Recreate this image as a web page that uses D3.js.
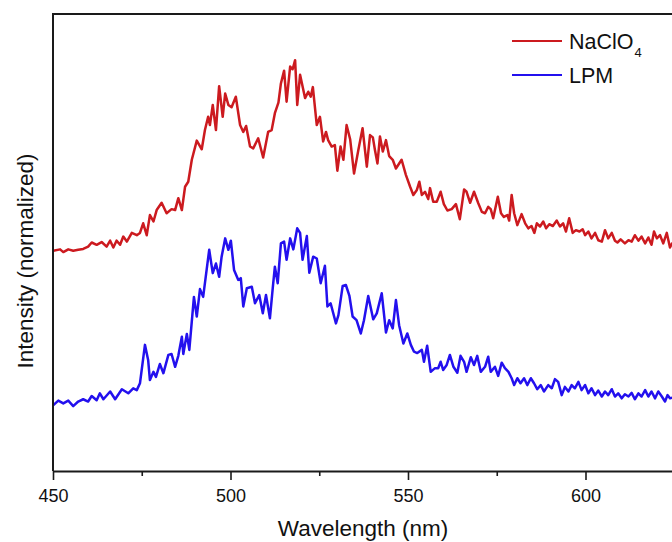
<!DOCTYPE html>
<html>
<head>
<meta charset="utf-8">
<script src="https://cdn.jsdelivr.net/npm/d3@7"></script>
<style>
  html, body { margin: 0; padding: 0; background: #fff; overflow: hidden; }
  svg { display: block; font-family: "Liberation Sans", Arial, Helvetica, sans-serif; }
</style>
</head>
<body>
<svg id="chart" width="672" height="542"></svg>
<script>
// ---------------- data ----------------
const seriesNames = ["NaClO4", "LPM"];
const xMajorTicks = [450, 500, 550, 600];
const xMinorTicks = [475, 525, 575, 625];
const xLabel = "Wavelength (nm)";
const yLabel = "Intensity (normalized)";

const naclo4Wavelength = [450.1,452.0,452.9,454.3,455.7,457.1,458.5,459.9,460.9,462.3,463.7,465.1,466.1,467.0,467.9,468.9,469.8,470.8,472.2,473.6,474.5,475.4,476.4,477.3,478.3,479.2,480.6,482.0,483.4,484.4,485.3,486.3,487.2,488.1,489.1,490.5,491.9,492.8,493.7,494.2,495.0,495.9,496.8,497.8,498.5,499.4,500.3,501.5,502.7,503.6,504.4,505.5,506.4,507.8,509.2,510.6,511.6,512.5,513.5,514.2,515.1,515.8,516.8,517.5,518.2,518.8,519.6,521.0,521.9,522.6,523.2,524.3,525.2,526.1,526.9,527.5,528.5,529.4,530.1,531.0,531.8,532.7,533.7,534.8,536.0,537.2,538.4,539.3,540.1,540.7,541.4,542.1,542.9,543.8,544.7,545.7,546.6,548.2,549.4,550.6,551.5,552.5,553.2,553.9,554.8,555.7,556.2,557.1,558.1,559.2,560.1,561.1,562.3,563.5,564.6,565.8,566.5,567.5,568.6,569.8,570.8,571.7,572.6,573.3,574.0,575.3,576.2,577.0,578.0,578.5,579.2,579.9,580.8,582.0,583.0,583.9,584.8,585.6,586.3,587.2,588.1,588.9,589.8,590.8,591.9,592.8,593.7,594.5,595.4,596.4,597.3,598.3,599.2,599.9,600.8,601.7,602.7,603.6,604.6,605.5,606.4,607.4,608.3,609.0,609.9,611.1,612.1,613.0,613.9,614.9,615.8,616.8,617.7,618.6,619.3,620.1,621.0,621.9,622.9,623.8,624.4,625.5,627.0];
const naclo4Intensity = [48.2,48.5,47.9,48.5,48.2,48.4,48.6,49.1,50.0,49.5,50.1,49.1,50.4,48.9,50.4,49.5,51.3,50.2,52.1,51.6,52.1,54.2,51.6,56.0,54.6,57.1,58.7,56.4,57.3,57.1,59.7,57.1,62.2,63.3,68.1,72.3,70.4,74.6,77.5,75.7,80.1,74.6,84.2,77.5,82.6,80.1,79.6,81.9,75.7,74.2,75.5,71.0,70.6,72.8,68.6,74.2,74.6,78.3,80.6,84.8,87.6,80.8,88.5,87.9,89.9,80.1,86.7,81.6,83.0,81.9,84.0,75.7,77.5,72.1,74.2,72.4,71.0,71.3,65.7,71.0,68.1,75.7,72.6,65.1,70.2,75.0,66.6,73.5,73.0,70.2,67.3,73.2,69.9,72.4,68.9,68.1,66.2,68.1,64.8,62.2,60.4,61.5,63.3,60.4,61.1,59.5,61.9,58.9,58.9,61.1,58.4,57.0,57.3,58.4,55.1,61.6,61.1,58.7,61.1,58.6,56.7,56.4,57.8,57.3,55.3,60.0,56.4,55.6,56.0,54.8,60.4,56.4,53.8,56.2,54.2,53.1,53.6,52.1,54.2,53.5,54.6,53.1,54.0,53.6,54.8,53.5,54.2,52.4,55.3,52.1,52.7,52.4,52.9,51.6,52.4,50.9,52.1,50.5,50.2,52.7,50.9,52.1,50.4,50.0,50.7,49.8,50.5,50.2,51.6,50.4,51.3,49.8,51.1,49.5,52.4,50.9,51.6,49.8,52.1,48.9,49.8,50.5,49.6];

const lpmWavelength = [450.1,451.5,452.9,454.3,455.7,457.1,458.5,459.9,460.9,462.3,463.2,464.2,466.1,467.5,469.4,471.2,472.6,473.6,474.5,475.9,476.8,477.3,478.3,479.0,480.1,481.1,482.5,483.4,484.4,485.3,486.3,486.7,487.7,488.4,489.7,490.5,491.4,492.3,494.0,495.0,495.9,496.8,497.5,498.5,499.4,500.1,501.0,502.2,502.9,503.6,504.6,506.0,506.9,508.1,509.1,510.0,511.1,511.9,512.5,513.3,514.2,515.1,515.8,516.8,517.7,518.8,519.6,520.3,521.5,522.2,523.3,524.3,525.4,526.6,527.3,528.2,529.7,530.4,531.6,532.5,533.5,534.4,535.5,536.7,537.6,538.8,540.2,541.2,542.6,543.8,544.7,545.7,546.6,547.5,548.7,549.8,550.8,551.7,552.6,553.9,554.5,555.4,556.4,557.6,558.5,559.2,559.9,560.9,561.8,562.8,563.9,564.8,565.8,566.5,567.7,568.6,569.5,570.5,571.7,572.6,573.3,574.5,575.4,576.4,577.3,578.3,579.2,579.9,580.8,581.7,582.7,583.6,584.6,585.5,586.4,587.4,588.3,589.5,590.5,591.4,592.3,593.3,594.2,595.2,596.1,597.0,598.0,598.9,599.9,600.8,601.7,602.7,603.6,604.6,605.5,606.4,607.4,608.3,609.2,610.2,611.1,612.1,613.0,613.9,614.9,615.8,616.8,617.7,618.6,619.6,620.5,621.5,622.4,623.1,623.8,625.0,626.5];
const lpmIntensity = [14.4,15.4,14.8,15.4,14.2,15.2,15.7,15.2,16.4,15.5,17.0,15.7,17.4,15.7,17.9,17.0,18.1,17.7,19.2,27.6,24.3,19.9,21.7,20.6,23.4,21.4,25.4,25.6,22.8,25.2,29.4,25.6,30.0,26.5,38.1,33.8,39.8,38.1,48.4,43.3,45.4,42.5,46.9,50.9,48.4,50.4,44.0,41.8,42.2,36.0,40.0,40.3,36.7,38.5,34.5,38.5,33.4,40.0,44.7,41.1,49.8,50.2,46.2,50.9,48.5,53.1,52.1,46.2,51.4,43.4,46.9,46.5,41.1,44.9,36.0,36.7,32.3,34.1,40.5,40.7,38.3,33.8,33.0,30.1,33.0,38.3,33.2,34.5,38.9,30.3,33.0,31.2,37.4,31.9,27.9,30.1,27.6,26.1,25.8,26.5,23.9,27.4,21.7,22.5,22.5,23.9,22.1,23.2,25.4,22.8,21.5,25.2,23.9,21.7,24.9,23.2,25.2,21.7,22.8,25.0,21.7,22.8,20.8,23.7,22.5,21.7,20.3,18.8,20.3,19.2,20.3,18.8,20.3,19.2,17.9,18.8,17.4,18.8,18.1,20.1,19.5,16.6,18.4,17.4,18.8,18.1,19.5,17.7,18.8,17.0,18.1,16.6,17.6,16.3,17.4,16.6,17.9,16.3,17.0,15.9,16.8,16.3,17.1,15.7,17.0,16.3,17.7,16.3,17.4,15.9,17.4,16.3,15.2,16.6,15.9,16.2,16.8];

const seriesColors = ["#cc1a1f", "#2310ee"];

// ---------------- layout ----------------
const svg = d3.select("#chart");
const margin = { left: 53, top: 14, bottom: 471, right: 763 };

const x = d3.scaleLinear().domain([450, 650]).range([margin.left, margin.right]);
const y = d3.scaleLinear().domain([0, 100]).range([margin.bottom, margin.top]);

svg.append("defs").append("clipPath").attr("id", "plotclip")
  .append("rect")
  .attr("x", margin.left).attr("y", margin.top)
  .attr("width", margin.right - margin.left).attr("height", margin.bottom - margin.top);

const series = [
  { name: seriesNames[0], data: d3.zip(naclo4Wavelength, naclo4Intensity), color: seriesColors[0] },
  { name: seriesNames[1], data: d3.zip(lpmWavelength, lpmIntensity), color: seriesColors[1] }
];

const line = d3.line().x(d => x(d[0])).y(d => y(d[1])).curve(d3.curveLinear);

const plot = svg.append("g").attr("clip-path", "url(#plotclip)");
series.forEach(s => {
  plot.append("path")
    .datum(s.data)
    .attr("fill", "none")
    .attr("stroke", s.color)
    .attr("stroke-width", 2.5)
    .attr("stroke-linejoin", "round")
    .attr("stroke-linecap", "round")
    .attr("d", line);
});

// frame (top + left), right side is outside the visible area
svg.append("line")
  .attr("x1", margin.left).attr("x2", margin.right)
  .attr("y1", margin.top).attr("y2", margin.top)
  .attr("stroke", "#1a1a1a").attr("stroke-width", 2);
svg.append("line")
  .attr("x1", margin.left).attr("x2", margin.left)
  .attr("y1", margin.top - 1).attr("y2", margin.bottom)
  .attr("stroke", "#1a1a1a").attr("stroke-width", 2);

// x axis major
const xAxis = d3.axisBottom(x).tickValues(xMajorTicks).tickSize(9).tickSizeOuter(0).tickPadding(9.5)
  .tickFormat(d3.format("d"));
const gx = svg.append("g").attr("transform", `translate(0,${margin.bottom})`).call(xAxis);
gx.select(".domain").attr("stroke", "#1a1a1a").attr("stroke-width", 2);
gx.selectAll(".tick line").attr("stroke", "#1a1a1a").attr("stroke-width", 1.6);
gx.selectAll(".tick text").attr("font-size", 18).attr("fill", "#111")
  .attr("font-family", "'Liberation Sans', Arial, sans-serif");

// x axis minor
const xAxisMinor = d3.axisBottom(x).tickValues(xMinorTicks).tickSize(5).tickSizeOuter(0).tickFormat("");
const gxm = svg.append("g").attr("transform", `translate(0,${margin.bottom})`).call(xAxisMinor);
gxm.select(".domain").remove();
gxm.selectAll(".tick line").attr("stroke", "#1a1a1a").attr("stroke-width", 1.6);

// axis titles
svg.append("text")
  .attr("x", 363).attr("y", 536)
  .attr("text-anchor", "middle")
  .attr("font-size", 22.5).attr("fill", "#111")
  .text(xLabel);

svg.append("text")
  .attr("transform", "translate(33,261) rotate(-90)")
  .attr("text-anchor", "middle")
  .attr("font-size", 22.5).attr("fill", "#111")
  .text(yLabel);

// legend
const legend = svg.append("g");
const legendRows = [
  { y: 41, color: seriesColors[0], base: "NaClO", sub: "4" },
  { y: 75, color: seriesColors[1], base: "LPM", sub: null }
];
legendRows.forEach(r => {
  legend.append("line")
    .attr("x1", 512).attr("x2", 562)
    .attr("y1", r.y).attr("y2", r.y)
    .attr("stroke", r.color).attr("stroke-width", 2);
  const t = legend.append("text")
    .attr("x", 569).attr("y", r.y + 7.5)
    .attr("font-size", 21.5).attr("fill", "#111");
  t.append("tspan").text(r.base);
  if (r.sub) {
    t.append("tspan").attr("dy", 8.5).attr("dx", 1).attr("font-size", 13).text(r.sub);
  }
});
</script>
</body>
</html>
